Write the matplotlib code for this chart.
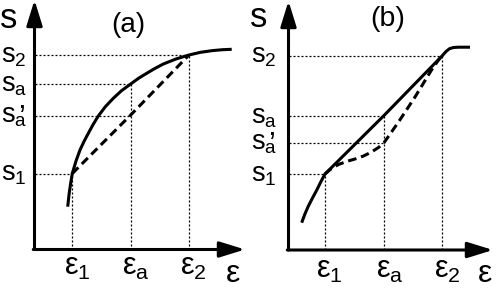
import matplotlib
matplotlib.use("Agg")
import matplotlib.pyplot as plt

plt.rcParams['font.family'] = ['Liberation Sans', 'DejaVu Sans']
plt.rcParams['mathtext.fontset'] = 'custom'
plt.rcParams['mathtext.rm'] = 'Liberation Sans'
plt.rcParams['mathtext.it'] = 'Liberation Sans'
plt.rcParams['mathtext.bf'] = 'Liberation Sans'

# ---------------- data (schematic units) ----------------
# panel (a)
a_eps = [37.8, 96.2, 154.5]                 # eps1, eps_a, eps2
a_eps_labels = [r'$\mathrm{ε}_{\mathrm{1}}$', r'$\mathrm{ε}_{\mathrm{a}}$',
                r'$\mathrm{ε}_{\mathrm{2}}$']
a_s = [76.0, 134.0, 165.5, 194.5]           # s1, s'a, sa, s2
a_s_labels = [r'$\mathrm{s}_{\mathrm{1}}$', r'$\mathrm{s}_{\mathrm{a}}$',
              r'$\mathrm{s}_{\mathrm{a}}$', r'$\mathrm{s}_{\mathrm{2}}$']
a_s_prime = [False, True, False, False]     # s'a carries a prime
a_curve_x = [33.2, 34.6, 36.2, 37.8, 41.5, 45.5, 49.5, 53.8, 58.5, 63.8, 71.0,
             78.8, 87.0, 96.2, 104.0, 112.2, 120.5, 128.8, 141.5, 154.5,
             166.0, 178.0, 188.0, 197.2]
a_curve_y = [42.8, 55.5, 66.5, 76.0, 88.5, 99.5, 108.0, 116.2, 124.8, 133.5, 143.0,
             151.2, 158.8, 165.5, 171.2, 176.2, 181.1, 185.5, 190.5, 194.5,
             197.2, 198.9, 199.8, 200.2]
a_dash_x = [37.8, 96.2, 154.5]
a_dash_y = [76.0, 134.5, 194.5]

# panel (b)
b_eps = [36.5, 95.5, 153.8]
b_eps_labels = a_eps_labels
b_s = [76.0, 107.3, 134.0, 194.3]           # s1, s'a, sa, s2
b_s_labels = a_s_labels
b_s_prime = [False, True, False, False]
b_curve_x = [13.2, 16.2, 19.8, 24.0, 28.3, 32.5, 36.5, 95.5, 153.8,
             157.5, 161.0, 165.0, 170.0, 181.5]
b_curve_y = [27.3, 35.5, 43.8, 52.0, 60.0, 68.5, 76.0, 134.5, 194.3,
             198.5, 201.3, 202.5, 202.8, 202.8]
b_dash_x = [36.5, 43.0, 50.0, 58.0, 66.5, 75.0, 83.0, 90.0, 95.5,
            110.0, 126.5, 143.0, 150.0, 153.8]
b_dash_y = [76.0, 81.5, 85.5, 88.5, 91.0, 94.0, 98.0, 102.5, 107.3,
            128.0, 153.0, 180.0, 190.0, 194.3]

# which level each dotted guide runs to
a_v_to = [0, 2, 3]      # eps1->s1, eps_a->s_a, eps2->s2
a_h_to = [0, 1, 1, 2]   # s1->eps1, s'a->eps_a, sa->eps_a, s2->eps2
b_v_to = [0, 2, 3]
b_h_to = [0, 1, 1, 2]

W, H = 499, 288
PT = 0.72  # points per pixel at 100 dpi
fig = plt.figure(figsize=(W / 100, H / 100), dpi=100)


def make_axes(x0, y0, x1, y1):
    ax = fig.add_axes([x0 / W, 1 - y0 / H, (x1 - x0) / W, (y0 - y1) / H])
    ax.set_xlim(0, x1 - x0)
    ax.set_ylim(0, y0 - y1)
    ax.axis('off')
    return ax


def draw_panel(ax, eps, eps_labels, s, s_labels, s_prime, cx, cy, dx, dy, v_to, h_to,
               ylab_dx, xlab_dy):
    ap = dict(arrowstyle='-|>,head_length=15.5,head_width=4.8', lw=2.2,
              color='black', shrinkA=0, shrinkB=0, mutation_scale=1)
    ax.annotate('', xy=(1, 0), xytext=(-0.006, 0), xycoords='axes fraction',
                arrowprops=ap, annotation_clip=False)
    ax.annotate('', xy=(0, 1), xytext=(0, 0), xycoords='axes fraction',
                arrowprops=ap, annotation_clip=False)
    dot = dict(color='black', lw=0.9, linestyle=(0, (1.6, 1.6)), clip_on=False)
    for i, e in enumerate(eps):
        ax.plot([e, e], [0, s[v_to[i]]], **dot)
    for i, sv in enumerate(s):
        ax.plot([0, eps[h_to[i]]], [sv, sv], **dot)
    ax.plot(cx, cy, color='black', lw=2.2, solid_capstyle='butt',
            solid_joinstyle='round', clip_on=False)
    ax.plot(dx, dy, color='black', lw=2.2, linestyle=(0, (2.8, 1.6)),
            dash_capstyle='butt', clip_on=False)
    for sv, lab, pr in zip(s, s_labels, s_prime):
        ax.annotate(lab, xy=(0, sv), xytext=(-(33.5 + ylab_dx) * PT, -7 * PT),
                    textcoords='offset points', ha='left', va='baseline',
                    fontsize=19.5, annotation_clip=False)
        if pr:
            ax.annotate(r'$\mathrm{’}$', xy=(0, sv),
                        xytext=(-(16.0 + ylab_dx) * PT, 13.5 * PT),
                        textcoords='offset points', ha='left', va='top',
                        fontsize=22, annotation_clip=False)
    for e, lab in zip(eps, eps_labels):
        ax.annotate(lab, xy=(e, 0), xytext=(-8.5 * PT, -xlab_dy * PT),
                    textcoords='offset points', ha='left', va='baseline',
                    fontsize=22, annotation_clip=False)


axa = make_axes(34.5, 249.5, 245, 0)
draw_panel(axa, a_eps, a_eps_labels, a_s, a_s_labels, a_s_prime, a_curve_x, a_curve_y,
           a_dash_x, a_dash_y, a_v_to, a_h_to, 0, 25.5)
axb = make_axes(288.5, 250, 493, 1)
draw_panel(axb, b_eps, b_eps_labels, b_s, b_s_labels, b_s_prime, b_curve_x, b_curve_y,
           b_dash_x, b_dash_y, b_v_to, b_h_to, 4, 28)


def ftext(x, y, s, size):
    fig.text(x / W, 1 - y / H, s, fontsize=size, ha='center', va='baseline')


ftext(8.5, 28, r'$\mathrm{s}$', 25)
ftext(258.5, 27, r'$\mathrm{s}$', 25)
ftext(128.5, 32, '(a)', 20)
ftext(388, 25.5, '(b)', 20.5)
ftext(233, 281.5, r'$\mathrm{ε}$', 23)
ftext(485, 281.5, r'$\mathrm{ε}$', 23)

fig.savefig('out.png', dpi=100)
